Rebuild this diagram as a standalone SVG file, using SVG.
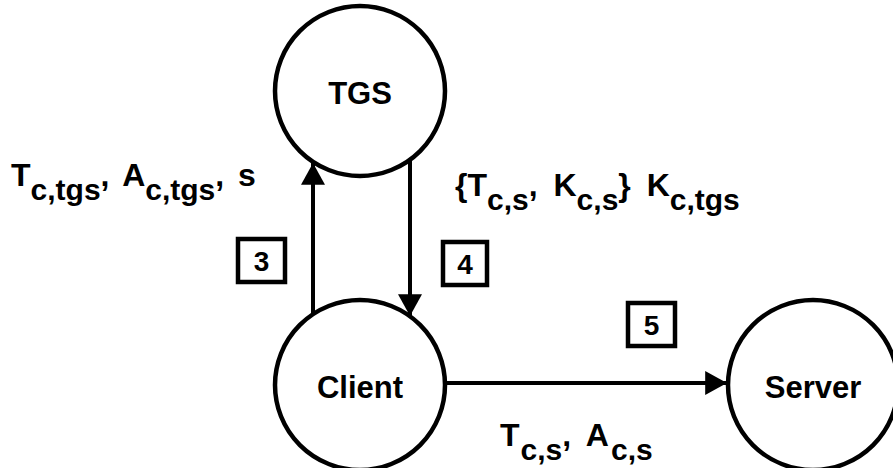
<svg xmlns="http://www.w3.org/2000/svg" width="893" height="468" viewBox="0 0 893 468">
  <style>
    .node { fill: #ffffff; stroke: #000000; stroke-width: 4.5; }
    .step { fill: #ffffff; stroke: #000000; stroke-width: 4.5; }
    .edge { fill: none; stroke: #000000; stroke-width: 4; }
    text { font-family: "Liberation Sans", Arial, sans-serif; font-weight: bold; fill: #000000; }
    .name { font-size: 31px; text-anchor: middle; dominant-baseline: central; }
    .num { font-size: 28px; text-anchor: middle; dominant-baseline: central; }
    .msg { font-size: 32px; }
    .sub { font-size: 30px; }
  </style>
  <defs>
    <marker id="arrow" markerUnits="userSpaceOnUse" markerWidth="24" markerHeight="24" viewBox="0 0 20 22" refX="20" refY="11" orient="auto">
      <path d="M0,0 L20,11 L0,22 Z" fill="#000000"/>
    </marker>
  </defs>

  <!-- connectors -->
  <g id="connectors">
    <line class="edge" x1="313" y1="313" x2="313" y2="163" marker-end="url(#arrow)"/>
    <line class="edge" x1="410" y1="160" x2="410" y2="316" marker-end="url(#arrow)"/>
    <line class="edge" x1="446" y1="383" x2="727" y2="383" marker-end="url(#arrow)"/>
  </g>

  <!-- nodes -->
  <g id="tgs">
    <circle class="node" cx="360" cy="91" r="85"/>
    <text class="name" x="360" y="93">TGS</text>
  </g>
  <g id="client">
    <circle class="node" cx="360" cy="385" r="85"/>
    <text class="name" x="360" y="387">Client</text>
  </g>
  <g id="server">
    <circle class="node" cx="813" cy="385" r="85"/>
    <text class="name" x="813" y="387">Server</text>
  </g>

  <!-- step numbers -->
  <g id="step3">
    <rect class="step" x="238" y="239" width="47" height="43"/>
    <text class="num" x="261.5" y="261">3</text>
  </g>
  <g id="step4">
    <rect class="step" x="443" y="242" width="44" height="43"/>
    <text class="num" x="465" y="264">4</text>
  </g>
  <g id="step5">
    <rect class="step" x="628" y="303" width="47" height="43"/>
    <text class="num" x="651.5" y="325">5</text>
  </g>

  <!-- message labels -->
  <g id="label3">
    <text class="msg" x="11" y="186">T<tspan class="sub" dy="14">c,tgs</tspan><tspan dy="-14">,</tspan><tspan dx="5"> A</tspan><tspan class="sub" dy="14">c,tgs</tspan><tspan dy="-14">,</tspan><tspan dx="5"> s</tspan></text>
  </g>
  <g id="label4">
    <text class="msg" x="455" y="196">{T<tspan class="sub" dy="14">c,s</tspan><tspan dy="-14">,</tspan><tspan dx="7"> K</tspan><tspan class="sub" dy="14">c,s</tspan><tspan dy="-14">}</tspan><tspan dx="7"> K</tspan><tspan class="sub" dy="14">c,tgs</tspan></text>
  </g>
  <g id="label5">
    <text class="msg" x="500" y="446">T<tspan class="sub" dy="14" dx="1">c,s</tspan><tspan dy="-14">,</tspan><tspan dx="7"> A</tspan><tspan class="sub" dy="14" dx="2">c,s</tspan></text>
  </g>
</svg>
